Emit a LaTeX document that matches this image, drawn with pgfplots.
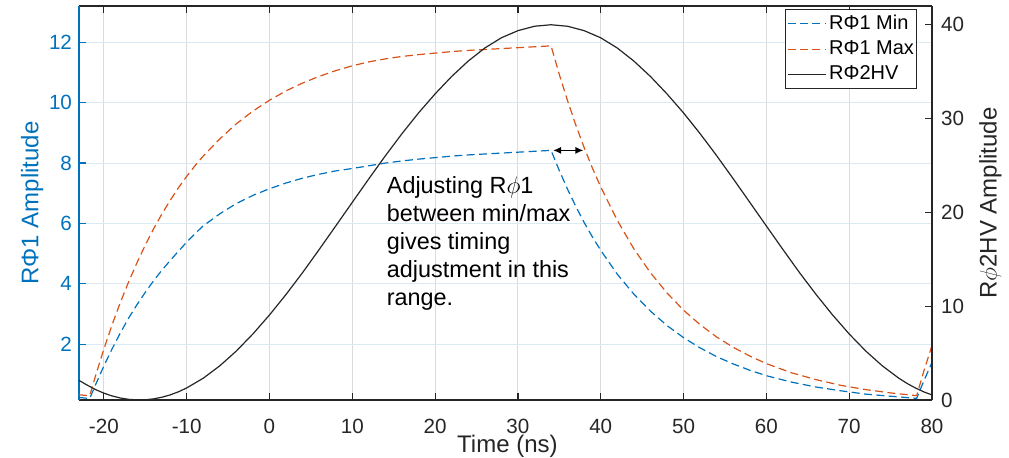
\documentclass[border=0pt]{standalone}
\usepackage{fontspec}
\setmainfont{Liberation Sans}
\usepackage{pgfplots}
\usepackage{pgfplotstable}
\pgfplotsset{compat=1.18}
\usetikzlibrary{arrows.meta}
\definecolor{mblue}{rgb}{0,0.447,0.741}
\definecolor{mred}{rgb}{0.850,0.325,0.098}
\definecolor{mgray}{rgb}{0.15,0.15,0.15}
\definecolor{gridgray}{rgb}{0.86,0.86,0.87}
\definecolor{gridblue}{rgb}{0.85,0.917,0.961}

\pgfplotstableread{
x y
-23 0.24
-22.3 0.22
-21.7 0.21
-21 0.66
-20 1.28
-19 1.85
-18 2.38
-17 2.87
-16 3.31
-15 3.72
-14 4.10
-13 4.45
-12 4.77
-11 5.08
-10 5.38
-9 5.66
-8 5.92
-6 6.32
-4 6.66
-2 6.93
0 7.15
2 7.34
4 7.50
6 7.63
8 7.74
10 7.82
12 7.91
14 8.00
16 8.07
18 8.13
20 8.18
22 8.23
24 8.27
26 8.30
28 8.33
30 8.36
32 8.39
34 8.42
35 7.75
36 7.13
37 6.56
38 6.03
39 5.55
40 5.11
42 4.32
44 3.66
46 3.10
48 2.62
50 2.22
52 1.88
54 1.59
56 1.35
58 1.14
60 0.96
63 0.75
66 0.585
69 0.46
72 0.35
75 0.28
78.15 0.21
79 0.78
80 1.40
}\minT

\pgfplotstableread{
x y
-23 0.33
-22.3 0.31
-21.7 0.30
-21 0.96
-20 1.84
-19 2.65
-18 3.39
-17 4.07
-16 4.70
-15 5.28
-14 5.82
-13 6.31
-12 6.76
-11 7.18
-10 7.56
-9 7.91
-8 8.23
-6 8.80
-4 9.30
-2 9.72
0 10.08
2 10.39
4 10.65
6 10.87
8 11.06
10 11.22
12 11.35
14 11.45
16 11.53
18 11.59
20 11.64
22 11.69
24 11.73
26 11.76
28 11.79
30 11.82
32 11.85
34 11.88
35 10.93
36 10.06
37 9.25
38 8.51
39 7.83
40 7.21
42 6.10
44 5.16
46 4.37
48 3.70
50 3.13
52 2.65
54 2.24
56 1.90
58 1.61
60 1.36
63 1.06
66 0.83
69 0.64
72 0.50
75 0.39
78.15 0.30
79 1.10
80 1.96
}\maxT

\pgfplotstableread{
x y
-23 2.09
-22 1.58
-21 1.11
-20 0.73
-19 0.43
-18 0.21
-17 0.07
-16 0.01
-15.7 0.00
-15 0.02
-14 0.12
-13 0.29
-12 0.54
-11 0.87
-10 1.28
-8 2.32
-6 3.64
-4 5.22
-2 7.04
0 9.06
2 11.25
4 13.58
6 16.04
8 18.55
10 21.07
12 23.58
14 26.04
16 28.39
18 30.60
20 32.63
22 34.49
24 36.13
26 37.52
28 38.61
30 39.37
32 39.84
34 40.00
36 39.84
38 39.37
40 38.61
42 37.52
44 36.13
46 34.49
48 32.63
50 30.60
52 28.39
54 26.04
56 23.58
58 21.07
60 18.55
62 16.04
64 13.58
66 11.25
68 9.06
70 7.04
72 5.22
74 3.64
76 2.32
77 1.76
78 1.28
79 0.87
80 0.54
}\hvT

\begin{document}
\begin{tikzpicture}
\pgfplotsset{
  common/.style={
    scale only axis, width=426.5pt, height=197pt,
    at={(0pt,0pt)}, anchor=south west,
    xmin=-23, xmax=80,
    tick align=inside,
    major tick length=3.5pt,
    /pgf/number format/assume math mode=true,
    tick label style={font=\fontsize{10.3}{12}\selectfont},
    axis line style={line width=0.6pt},
  }
}
\begin{axis}[common,
  ymin=0.156, ymax=13.2,
  xtick={-20,-10,...,80},
  ytick={2,4,...,12},
  axis y line*=left,
  xtick pos=both, ytick pos=left,
  grid=major,
  x grid style={gridgray, line width=0.5pt},
  y grid style={gridblue, line width=0.5pt},
  x axis line style={mgray},
  y axis line style={mblue},
  xtick style={mgray, line width=0.6pt},
  ytick style={mblue, line width=0.6pt},
  xticklabel style={text=mgray, anchor=base, yshift=-16.6pt},
  yticklabel style={text=mblue},
]
\addplot[mblue, dash pattern=on 4pt off 2.2pt, line width=0.6pt] table {\minT};
\addplot[mred, dash pattern=on 4pt off 2.2pt, line width=0.6pt] table {\maxT};
\draw[{Latex[length=4pt,width=3.6pt]}-{Latex[length=4pt,width=3.6pt]}, line width=0.7pt, black]
  (axis cs:34.25,8.42) -- (axis cs:37.9,8.42);
\node[anchor=north west, align=left, inner sep=0pt, font=\fontsize{11.7}{14}\selectfont, text=black]
  at (axis cs:14.13,7.58) {Adjusting R$\phi$1\\between min/max\\gives timing\\adjustment in this\\range.};
\end{axis}
\begin{axis}[common,
  ymin=0, ymax=42,
  ytick={0,10,...,40},
  xtick=\empty,
  axis x line=none,
  axis y line*=right,
  ytick pos=right,
  y axis line style={mgray},
  ytick style={mgray, line width=0.6pt},
  yticklabel style={text=mgray, xshift=1pt},
  legend cell align=left,
  legend image code/.code={\draw[#1] (0pt,0pt) -- (19pt,0pt);},
  legend style={at={(0.98242,0.99239)}, anchor=north east, draw=mgray, line width=0.4pt,
    fill=white, font=\fontsize{10}{12}\selectfont,
    inner xsep=0.8pt, inner ysep=2.3pt, column sep=1pt, row sep=3.1pt,
    nodes={inner sep=0.5pt}},
]
\addlegendimage{mblue, dash pattern=on 4pt off 2.2pt, line width=0.6pt}
\addlegendentry{RΦ1 Min}
\addlegendimage{mred, dash pattern=on 4pt off 2.2pt, line width=0.6pt}
\addlegendentry{RΦ1 Max\hspace{1pt}}
\addplot[black!85, line width=0.6pt] table {\hvT};
\addlegendentry{RΦ2HV}
\end{axis}
\node[rotate=90, anchor=base, text=mblue, font=\fontsize{12}{14}\selectfont] at (-20.3pt,98.5pt) {RΦ1 Amplitude};
\node[rotate=90, anchor=base, text=mgray, font=\fontsize{12}{14}\selectfont] at (458.8pt,98.5pt) {R$\phi$2HV Amplitude};
\node[anchor=base, text=mgray, font=\fontsize{12}{14}\selectfont] at (214.2pt,-26.4pt) {Time (ns)};
\pgfresetboundingbox
\useasboundingbox (-39.5pt,-29pt) rectangle (465pt,200pt);
\end{tikzpicture}
\end{document}
